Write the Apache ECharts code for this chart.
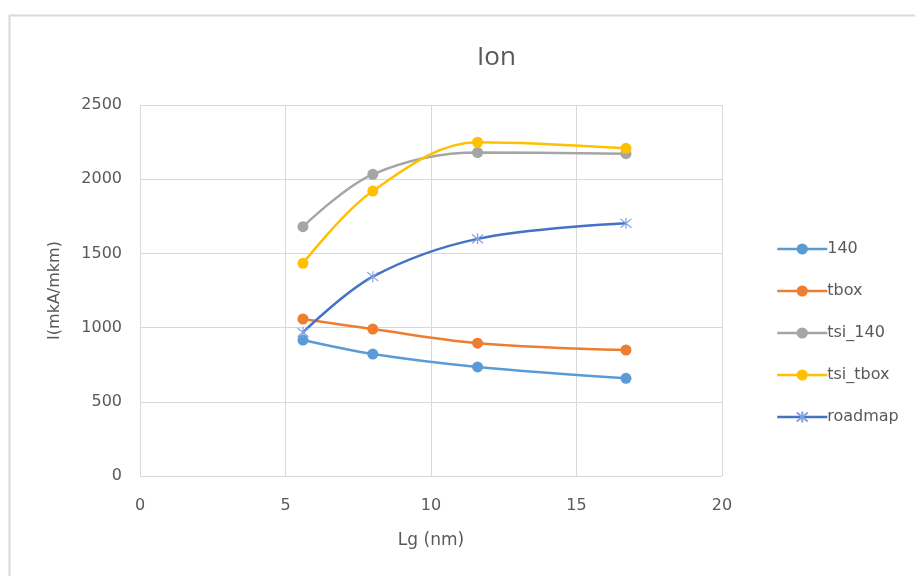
<!DOCTYPE html>
<html>
<head>
<meta charset="utf-8">
<script src="https://cdn.jsdelivr.net/npm/echarts@6/dist/echarts.min.js"></script>
<style>html,body{margin:0;padding:0;background:#fff;}#c{width:915px;height:576px;}</style>
</head>
<body>
<div id="c"></div>
<script>
const lg = [5.6, 8, 11.6, 16.7];
const s140 = [916, 822, 735, 658];
const sTbox = [1058, 990, 895, 849];
const sTsi140 = [1680, 2033, 2180, 2172];
const sTsiTbox = [1433, 1920, 2249, 2208];
const sRoadmap = [968, 1343, 1598, 1703];
const names = ['140', 'tbox', 'tsi_140', 'tsi_tbox', 'roadmap'];
const colors = ['#5B9BD5', '#ED7D31', '#A5A5A5', '#FFC000', '#4472C4'];
const values = [s140, sTbox, sTsi140, sTsiTbox, sRoadmap];
const xTicks = [0, 5, 10, 15, 20];
const yTicks = [0, 500, 1000, 1500, 2000, 2500];

const star = 'path://M5 0 L5 10 M1 1 L9 9 M1 9 L9 1';
const series = names.map((n, i) => ({
  name: n,
  type: 'line',
  smooth: 0.35,
  smoothConstraint: false,
  data: lg.map((x, j) => [x, values[i][j]]),
  symbol: n === 'roadmap' ? star : 'circle',
  symbolSize: 11,
  lineStyle: { color: colors[i], width: 2.5 },
  itemStyle: n === 'roadmap'
    ? { color: 'rgba(0,0,0,0)', borderColor: '#7FA3E0', borderWidth: 1.2 }
    : { color: colors[i], borderColor: colors[i], borderWidth: 0 },
  z: 2 + i
}));

const chart = echarts.init(document.getElementById('c'), null, { renderer: 'canvas' });
chart.setOption({
  animation: false,
  backgroundColor: '#fff',
  graphic: [{
    type: 'rect', left: 7, top: 13, shape: { width: 920, height: 580 },
    style: { fill: 'none', stroke: '#D9D9D9', lineWidth: 2 }, silent: true
  }],
  title: {
    text: 'Ion', left: 472, top: 40,
    textStyle: { fontFamily: 'Open Sans', fontSize: 26, fontWeight: 'normal', color: '#595959' }
  },
  grid: { left: 140, right: 193, top: 105, bottom: 100 },
  legend: {
    orient: 'vertical', left: 771, top: 236, itemGap: 26, itemWidth: 50, itemHeight: 14,
    data: names,
    lineStyle: { width: 2.5 },
    textStyle: { fontFamily: 'DejaVu Sans', fontSize: 16, color: '#595959', padding: [0, 0, 0, -5] }
  },
  xAxis: {
    type: 'value', min: xTicks[0], max: xTicks[xTicks.length - 1], interval: 5,
    name: 'Lg (nm)', nameLocation: 'middle', nameGap: 56,
    nameTextStyle: { fontFamily: 'DejaVu Sans', fontSize: 17, color: '#595959' },
    axisLine: { show: false }, axisTick: { show: false },
    axisLabel: { fontFamily: 'DejaVu Sans', fontSize: 16, color: '#595959', margin: 22 },
    splitLine: { show: true, lineStyle: { color: '#D9D9D9', width: 1 } }
  },
  yAxis: {
    type: 'value', min: yTicks[0], max: yTicks[yTicks.length - 1], interval: 500,
    name: 'I(mkA/mkm)', nameLocation: 'middle', nameGap: 77, nameRotate: 90,
    nameTextStyle: { fontFamily: 'DejaVu Sans', fontSize: 16, color: '#595959' },
    axisLine: { show: false }, axisTick: { show: false },
    axisLabel: { fontFamily: 'DejaVu Sans', fontSize: 16, color: '#595959', margin: 18, formatter: v => String(v) },
    splitLine: { show: true, lineStyle: { color: '#D9D9D9', width: 1 } }
  },
  series: series
});
</script>
</body>
</html>
